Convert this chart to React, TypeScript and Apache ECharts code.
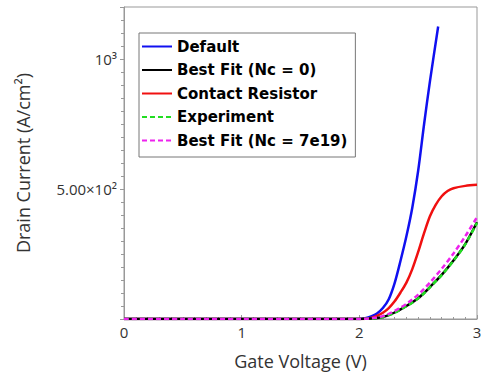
import React, { useEffect, useRef } from "react";
import * as echarts from "echarts";

const seriesNames = [
  "Default",
  "Best Fit (Nc = 0)",
  "Contact Resistor",
  "Experiment",
  "Best Fit (Nc = 7e19)",
];

const defaultX = [0, 0.5, 1, 1.5, 2, 2.05, 2.1, 2.15, 2.2, 2.25, 2.3, 2.35, 2.4, 2.45, 2.5, 2.55, 2.6, 2.67];
const defaultY = [0, 0, 0, 0, 0, 3, 10, 21, 42, 76, 138, 224, 318, 428, 570, 748, 914, 1125];

const contactX = [0, 0.5, 1, 1.5, 2, 2.05, 2.1, 2.15, 2.2, 2.25, 2.3, 2.35, 2.4, 2.45, 2.5, 2.55, 2.6, 2.65, 2.7, 2.75, 2.8, 2.9, 3.0];
const contactY = [0, 0, 0, 0, 0, 1, 4, 12, 24, 42, 68, 102, 140, 192, 258, 330, 395, 440, 472, 492, 503, 512, 516];

const fitX = [0, 0.5, 1, 1.5, 2, 2.05, 2.1, 2.15, 2.2, 2.25, 2.3, 2.35, 2.4, 2.45, 2.5, 2.55, 2.6, 2.7, 2.8, 2.9, 3.0];
const bestFit0Y = [0, 0, 0, 0, 0, 0.5, 2, 4, 8, 15, 25, 37, 50, 64, 80, 100, 123, 170, 225, 288, 372];
const experimentY = [0, 0, 0, 0, 0, 0.5, 2, 4, 8, 15, 24, 36, 49, 63, 79, 99, 122, 169, 224, 287, 370];
const bestFit7Y = [0, 0, 0, 0, 0, 1, 3, 6, 11, 20, 31, 44, 58, 75, 94, 116, 140, 193, 252, 318, 392];

const yLabels: Record<number, string> = { 500: "5.00×10²", 1000: "10³" };

const pairs = (xs: number[], ys: number[]) => xs.map((x, i) => [x, ys[i]]);

export default function App() {
  const ref = useRef<HTMLDivElement>(null);
  useEffect(() => {
    if (!ref.current) return;
    const chart = echarts.init(ref.current, null, { renderer: "svg" });
    const font = "Open Sans";
    const line = (name: string, data: number[][], color: string, type: any) => ({
      name,
      type: "line",
      data,
      showSymbol: false,
      symbol: "none",
      smooth: 0.3,
      lineStyle: { color, width: 2.5, type },
      itemStyle: { color },
    });
    chart.setOption({
      animation: false,
      backgroundColor: "#fff",
      grid: {
        left: 124,
        right: 10,
        top: 7,
        bottom: 58,
        show: true,
        borderColor: "#999",
        borderWidth: 1,
      },
      legend: {
        data: seriesNames,
        orient: "vertical",
        left: 139,
        top: 33,
        itemWidth: 30,
        itemHeight: 14,
        itemGap: 8.5,
        padding: [6, 8, 9, 2],
        borderColor: "#777",
        borderWidth: 1,
        backgroundColor: "#fff",
        itemStyle: { opacity: 0 },
        textStyle: { fontFamily: "DejaVu Sans", fontWeight: "bold", fontSize: 15, color: "#000" },
      },
      xAxis: {
        type: "value",
        min: 0,
        max: 3,
        interval: 1,
        name: "Gate Voltage (V)",
        nameLocation: "middle",
        nameGap: 33,
        nameTextStyle: { fontFamily: font, fontSize: 18, color: "#333" },
        axisLine: { show: true, lineStyle: { color: "#999" } },
        axisTick: { show: true, inside: true, length: 4, lineStyle: { color: "#999" } },
        minorTick: { show: true, splitNumber: 10, length: 2, lineStyle: { color: "#999" } },
        splitLine: { show: false },
        axisLabel: { fontFamily: font, fontSize: 15, color: "#333", margin: 5 },
      },
      yAxis: {
        type: "value",
        min: 0,
        max: 1200,
        interval: 500,
        name: "Drain Current (A/cm²)",
        nameLocation: "middle",
        nameGap: 92,
        nameTextStyle: { fontFamily: font, fontSize: 18, color: "#333" },
        axisLine: { show: true, lineStyle: { color: "#999" } },
        axisTick: { show: true, inside: false, length: 4, lineStyle: { color: "#999" } },
        minorTick: { show: true, splitNumber: 10, length: 3, lineStyle: { color: "#999" } },
        splitLine: { show: false },
        axisLabel: {
          fontFamily: font,
          fontSize: 15,
          color: "#333",
          margin: 7,
          formatter: (v: number) => yLabels[v] || "",
        },
      },
      series: [
        line(seriesNames[0], pairs(defaultX, defaultY), "#1010f0", "solid"),
        line(seriesNames[2], pairs(contactX, contactY), "#f01010", "solid"),
        line(seriesNames[1], pairs(fitX, bestFit0Y), "#000000", "solid"),
        line(seriesNames[3], pairs(fitX, experimentY), "#22dd22", [5, 3]),
        line(seriesNames[4], pairs(fitX, bestFit7Y), "#ee22ee", [5, 3]),
      ],
    });
    return () => chart.dispose();
  }, []);
  return <div ref={ref} style={{ width: 487, height: 377, position: "absolute", left: 0, top: 0 }} />;
}
